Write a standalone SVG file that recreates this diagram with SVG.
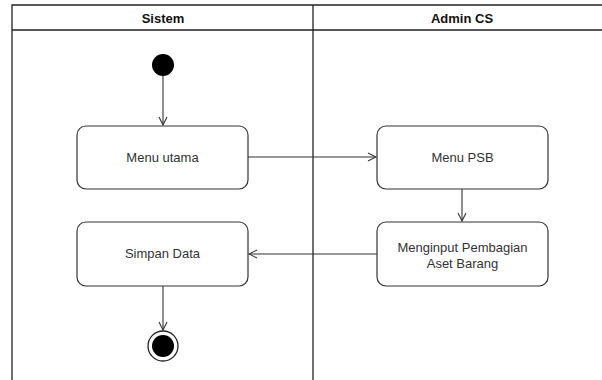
<svg xmlns="http://www.w3.org/2000/svg" width="602" height="380" viewBox="0 0 602 380">
<style>
.lane{fill:none;stroke:#222;stroke-width:1.3}
.hdr{font-family:"Liberation Sans",Arial,sans-serif;font-size:13px;font-weight:bold;fill:#111;text-anchor:middle}
.box{fill:#fff;stroke:#333;stroke-width:1.2}
.lbl{font-family:"Liberation Sans",Arial,sans-serif;font-size:13px;fill:#333;text-anchor:middle}
.edge{fill:none;stroke:#333;stroke-width:1.1}
</style>
<defs>
<marker id="open" viewBox="0 0 10 10" refX="9" refY="5" markerWidth="10" markerHeight="10" markerUnits="userSpaceOnUse" orient="auto">
<path d="M1,1 L9,5 L1,9" fill="none" stroke="#333" stroke-width="1.1"/>
</marker>
</defs>
<rect width="602" height="380" fill="#fff"/>
<g id="pool">
<path class="lane" d="M12,380 V5 H602 M12,30 H602 M313,5 V380"/>
<text class="hdr" x="163" y="23">Sistem</text>
<text class="hdr" x="462" y="23">Admin CS</text>
</g>
<g id="connectors">
<path class="edge" d="M163,76 V125" marker-end="url(#open)"/>
<path class="edge" d="M248,157 H376" marker-end="url(#open)"/>
<path class="edge" d="M462,189 V221" marker-end="url(#open)"/>
<path class="edge" d="M377,254 H249" marker-end="url(#open)"/>
<path class="edge" d="M163,286 V330" marker-end="url(#open)"/>
</g>
<g id="start"><circle cx="163" cy="65" r="11" fill="#000"/></g>
<g id="menu-utama"><rect class="box" x="77" y="126" width="171" height="63" rx="9"/><text class="lbl" x="162.5" y="162">Menu utama</text></g>
<g id="menu-psb"><rect class="box" x="377" y="126" width="171" height="63" rx="9"/><text class="lbl" x="462.5" y="162">Menu PSB</text></g>
<g id="menginput"><rect class="box" x="377" y="222" width="171" height="64" rx="9"/><text class="lbl" x="462.5" y="252">Menginput Pembagian</text><text class="lbl" x="462.5" y="268">Aset Barang</text></g>
<g id="simpan"><rect class="box" x="77" y="222" width="171" height="64" rx="9"/><text class="lbl" x="162.5" y="258">Simpan Data</text></g>
<g id="end"><circle cx="163" cy="346" r="15" fill="#fff" stroke="#222" stroke-width="1.3"/><circle cx="163" cy="346" r="11" fill="#000"/></g>
</svg>
